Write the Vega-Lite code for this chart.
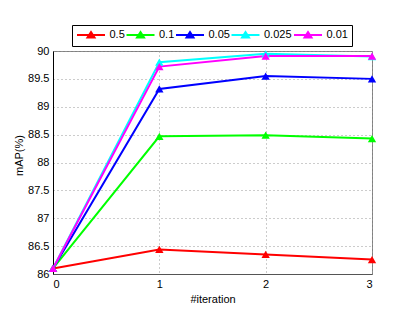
{
  "$schema": "https://vega.github.io/schema/vega-lite/v6.json",
  "width": 319,
  "height": 223,
  "autosize": {"type": "none"},
  "padding": {"left": 53, "top": 51, "right": 39, "bottom": 35},
  "background": "white",
  "config": {
    "font": "Liberation Sans",
    "view": {"stroke": "#808080", "strokeWidth": 1},
    "axis": {
      "labelFont": "Liberation Sans",
      "titleFont": "Liberation Sans",
      "labelFontSize": 11,
      "titleFontSize": 11,
      "titleFontWeight": "normal",
      "labelColor": "black",
      "titleColor": "black",
      "grid": true,
      "gridDash": [1, 3],
      "gridColor": "#999999",
      "gridWidth": 1,
      "ticks": false,
      "labelPadding": 4
    }
  },
  "data": {
    "values": [
      {"alpha": "0.5", "iter": 0, "map": 86.1},
      {"alpha": "0.5", "iter": 1, "map": 86.44},
      {"alpha": "0.5", "iter": 2, "map": 86.35},
      {"alpha": "0.5", "iter": 3, "map": 86.26},
      {"alpha": "0.1", "iter": 0, "map": 86.1},
      {"alpha": "0.1", "iter": 1, "map": 88.47},
      {"alpha": "0.1", "iter": 2, "map": 88.49},
      {"alpha": "0.1", "iter": 3, "map": 88.43},
      {"alpha": "0.05", "iter": 0, "map": 86.1},
      {"alpha": "0.05", "iter": 1, "map": 89.32},
      {"alpha": "0.05", "iter": 2, "map": 89.55},
      {"alpha": "0.05", "iter": 3, "map": 89.5},
      {"alpha": "0.025", "iter": 0, "map": 86.1},
      {"alpha": "0.025", "iter": 1, "map": 89.8},
      {"alpha": "0.025", "iter": 2, "map": 89.95},
      {"alpha": "0.025", "iter": 3, "map": 89.9},
      {"alpha": "0.01", "iter": 0, "map": 86.1},
      {"alpha": "0.01", "iter": 1, "map": 89.72},
      {"alpha": "0.01", "iter": 2, "map": 89.91},
      {"alpha": "0.01", "iter": 3, "map": 89.91}
    ]
  },
  "encoding": {
    "x": {
      "field": "iter",
      "type": "quantitative",
      "scale": {"domain": [0, 3], "nice": false},
      "axis": {
        "values": [0, 1, 2, 3],
        "format": "d",
        "title": "#iteration",
        "domainColor": "#555555",
        "titlePadding": 4
      }
    },
    "y": {
      "field": "map",
      "type": "quantitative",
      "scale": {"domain": [86, 90], "nice": false, "zero": false},
      "axis": {
        "values": [86, 86.5, 87, 87.5, 88, 88.5, 89, 89.5, 90],
        "format": ".1~f",
        "title": "mAP(%)",
        "domainColor": "black",
        "titlePadding": 3,
        "titleY": 104
      }
    },
    "color": {
      "field": "alpha",
      "type": "nominal",
      "sort": ["0.5", "0.1", "0.05", "0.025", "0.01"],
      "scale": {
        "domain": ["0.5", "0.1", "0.05", "0.025", "0.01"],
        "range": ["#ff0000", "#00ff00", "#0000ff", "#00ffff", "#ff00ff"]
      },
      "legend": {
        "orient": "none",
        "legendX": 19,
        "legendY": -26,
        "direction": "horizontal",
        "columns": 5,
        "gridAlign": "none",
        "title": null,
        "symbolType": "M-1,0L4.6,0M1.8,-0.6L2.5,0.5L1.1,0.5Z",
        "symbolSize": 100,
        "symbolStrokeWidth": 2,
        "labelFontSize": 11,
        "labelFont": "Liberation Sans",
        "labelColor": "black",
        "labelOffset": 21.5,
        "columnPadding": -2.5,
        "strokeColor": "black",
        "fillColor": "white",
        "padding": 4,
        "encode": {
          "symbols": {
            "update": {
              "fill": {"scale": "color", "field": "value"},
              "stroke": {"scale": "color", "field": "value"},
              "opacity": {"value": 1}
            }
          }
        }
      }
    }
  },
  "layer": [
    {"mark": {"type": "line", "strokeWidth": 2, "clip": false}},
    {"mark": {"type": "point", "shape": "triangle-up", "filled": true, "size": 70, "opacity": 1, "clip": false}}
  ]
}
